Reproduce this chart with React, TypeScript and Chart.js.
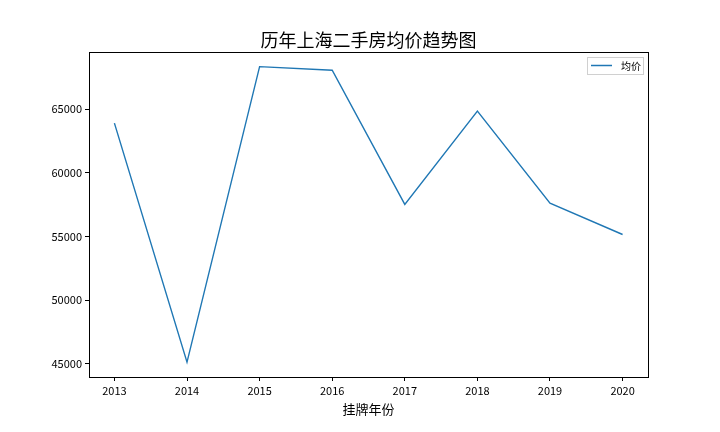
import React, { useEffect, useRef } from "react";
import { Chart, registerables } from "chart.js";

Chart.register(...registerables);

const years = [2013, 2014, 2015, 2016, 2017, 2018, 2019, 2020];
const avgPrice = [63900, 45140, 68330, 68050, 57520, 64840, 57620, 55160];
const yTicks = [45000, 50000, 55000, 60000, 65000];
const titleText = "历年上海二手房均价趋势图";
const xTitle = "挂牌年份";
const seriesName = "均价";

const LINE = "#1f77b4";
const TICK_FONT = "'Noto Sans CJK SC', sans-serif";
const CJK_FONT = "'Noto Sans CJK SC', sans-serif";

const framePlugin = {
  id: "frame",
  afterDraw(chart: any) {
    const { ctx, chartArea } = chart;
    ctx.save();
    ctx.strokeStyle = "#000";
    ctx.lineWidth = 1;
    ctx.strokeRect(
      Math.round(chartArea.left) + 0.5,
      Math.round(chartArea.top) + 0.5,
      Math.round(chartArea.right - chartArea.left),
      Math.round(chartArea.bottom - chartArea.top)
    );
    // legend box (matplotlib style, upper right)
    const ds = chart.data.datasets[0];
    const w = 56;
    const h = 17;
    const left = Math.round(chartArea.right) - 5 - w;
    const top = Math.round(chartArea.top) + 5;
    ctx.fillStyle = "rgba(255,255,255,0.8)";
    ctx.fillRect(left, top, w, h);
    ctx.strokeStyle = "#d0d0d0";
    ctx.strokeRect(left + 0.5, top + 0.5, w, h);
    ctx.strokeStyle = ds.borderColor;
    ctx.lineWidth = 1.5;
    ctx.beginPath();
    ctx.moveTo(left + 4, top + 8.5);
    ctx.lineTo(left + 25, top + 8.5);
    ctx.stroke();
    ctx.fillStyle = "#000";
    ctx.font = `10px ${CJK_FONT}`;
    ctx.textBaseline = "middle";
    ctx.textAlign = "left";
    ctx.fillText(ds.label, left + 34, top + 9);
    ctx.restore();
  },
};

export default function App() {
  const ref = useRef<HTMLCanvasElement>(null);
  useEffect(() => {
    document.body.style.margin = "0";
    const canvas = ref.current!;
    const chart = new Chart(canvas, {
      type: "line",
      data: {
        datasets: [
          {
            label: seriesName,
            data: years.map((y, i) => ({ x: y, y: avgPrice[i] })),
            borderColor: LINE,
            backgroundColor: LINE,
            borderWidth: 1.4,
            pointRadius: 0,
            tension: 0,
            fill: false,
          },
        ],
      },
      options: {
        animation: false,
        responsive: false,
        maintainAspectRatio: false,
        layout: { padding: { left: 0, right: 72, top: 0, bottom: 15 } },
        plugins: {
          title: {
            display: true,
            fullSize: false,
            text: titleText,
            color: "#000",
            font: { family: CJK_FONT, size: 18, weight: "normal", lineHeight: 1.2 },
            padding: { top: 29, bottom: 1.4 },
          },
          legend: { display: false },
          tooltip: { enabled: false },
        },
        scales: {
          x: {
            type: "linear",
            min: 2012.65,
            max: 2020.35,
            afterBuildTicks: (axis: any) => {
              axis.ticks = years.map((v) => ({ value: v }));
            },
            afterFit: (s: any) => {
              s.height = 40;
            },
            grid: {
              drawOnChartArea: false,
              drawTicks: true,
              tickLength: 4,
              color: "#000",
            },
            border: { display: true, color: "#000" },
            ticks: {
              color: "#000",
              font: { family: TICK_FONT, size: 11 },
              padding: 3,
              maxRotation: 0,
              callback: (v: any) => String(v),
            },
            title: {
              display: true,
              text: xTitle,
              color: "#000",
              font: { family: CJK_FONT, size: 13 },
              padding: { top: 0, bottom: 0 },
            },
          },
          y: {
            type: "linear",
            min: 43978,
            max: 69481,
            afterBuildTicks: (axis: any) => {
              axis.ticks = yTicks.map((v) => ({ value: v }));
            },
            afterFit: (s: any) => {
              s.width = 89;
            },
            grid: {
              drawOnChartArea: false,
              drawTicks: true,
              tickLength: 4,
              color: "#000",
            },
            border: { display: true, color: "#000" },
            ticks: {
              color: "#000",
              font: { family: TICK_FONT, size: 11 },
              padding: 3,
              callback: (v: any) => String(v),
            },
          },
        },
      },
      plugins: [framePlugin],
    });
    return () => chart.destroy();
  }, []);
  return (
    <div style={{ width: 720, height: 432, background: "#fff" }}>
      <canvas ref={ref} width={720} height={432} style={{ display: "block" }} />
    </div>
  );
}
